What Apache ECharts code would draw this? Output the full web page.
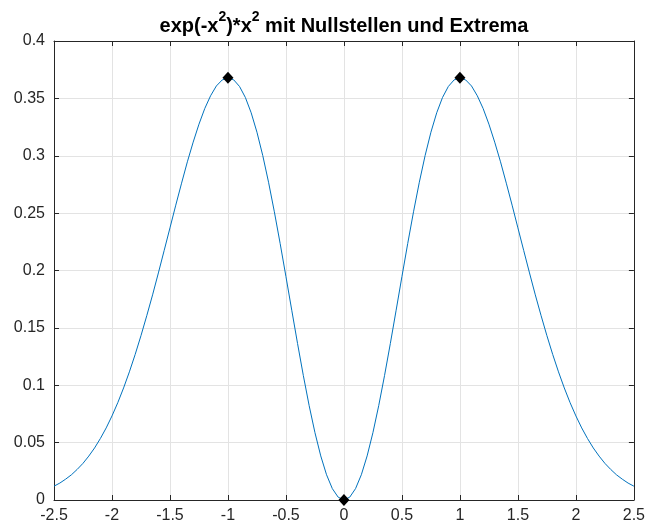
<!DOCTYPE html>
<html><head><meta charset="utf-8">
<script src="https://cdn.jsdelivr.net/npm/echarts@6/dist/echarts.min.js"></script>
<style>html,body{margin:0;padding:0;background:#fff}#c{width:648px;height:528px}</style>
</head><body><div id="c"></div>
<script>
const xValues = [-2.5,-2.45,-2.4,-2.35,-2.3,-2.25,-2.2,-2.15,-2.1,-2.05,-2,-1.95,-1.9,-1.85,-1.8,-1.75,-1.7,-1.65,-1.6,-1.55,-1.5,-1.45,-1.4,-1.35,-1.3,-1.25,-1.2,-1.15,-1.1,-1.05,-1,-0.95,-0.9,-0.85,-0.8,-0.75,-0.7,-0.65,-0.6,-0.55,-0.5,-0.45,-0.4,-0.35,-0.3,-0.25,-0.2,-0.15,-0.1,-0.05,0,0.05,0.1,0.15,0.2,0.25,0.3,0.35,0.4,0.45,0.5,0.55,0.6,0.65,0.7,0.75,0.8,0.85,0.9,0.95,1,1.05,1.1,1.15,1.2,1.25,1.3,1.35,1.4,1.45,1.5,1.55,1.6,1.65,1.7,1.75,1.8,1.85,1.9,1.95,2,2.05,2.1,2.15,2.2,2.25,2.3,2.35,2.4,2.45,2.5];
const yValues = [0.01206,0.01474,0.01815,0.02196,0.02667,0.03195,0.03827,0.04536,0.05360,0.06282,0.07326,0.08483,0.09765,0.11168,0.12687,0.14323,0.16063,0.17876,0.19788,0.21748,0.23715,0.25695,0.27609,0.29472,0.31184,0.32752,0.34118,0.35226,0.36082,0.36604,0.36788,0.36611,0.36034,0.35080,0.33747,0.32050,0.30019,0.27691,0.25116,0.22354,0.19470,0.16538,0.13634,0.10838,0.08225,0.05871,0.03843,0.02200,0.00990,0.00249,0,0.00249,0.00990,0.02200,0.03843,0.05871,0.08225,0.10838,0.13634,0.16538,0.19470,0.22354,0.25116,0.27691,0.30019,0.32050,0.33747,0.35080,0.36034,0.36611,0.36788,0.36604,0.36082,0.35226,0.34118,0.32752,0.31184,0.29472,0.27609,0.25695,0.23715,0.21748,0.19788,0.17876,0.16063,0.14323,0.12687,0.11168,0.09765,0.08483,0.07326,0.06282,0.05360,0.04536,0.03827,0.03195,0.02667,0.02196,0.01815,0.01474,0.01206];
const markX = [-1, 0, 1];
const markY = [0.36788, 0, 0.36788];
const xTicks = {min: -2.5, max: 2.5, interval: 0.5};
const yTicks = {min: 0, max: 0.4, interval: 0.05};

const axisColor = '#262626';
const font = '"Liberation Sans", Arial, Helvetica, sans-serif';
const chart = echarts.init(document.getElementById('c'), null, {renderer: 'canvas'});
const baseAxis = {
  type: 'value',
  axisLine: {show: true, onZero: false, lineStyle: {color: axisColor, width: 1}},
  axisTick: {show: true, inside: true, length: 5, lineStyle: {color: axisColor}},
  axisLabel: {color: axisColor, fontSize: 16, fontFamily: font},
  splitLine: {show: true, lineStyle: {color: '#e3e3e3', width: 1}}
};
const hidden = {
  type: 'value',
  axisLine: {show: true, onZero: false, lineStyle: {color: axisColor, width: 1}},
  axisTick: {show: true, inside: true, length: 5, lineStyle: {color: axisColor}},
  axisLabel: {show: false},
  splitLine: {show: false}
};
chart.setOption({
  animation: false,
  backgroundColor: '#fff',
  title: {
    text: '{a|exp(-x}{s|2}{a|)*x}{s|2}{a| mit Nullstellen und Extrema}',
    left: 344, top: 10, padding: 0, textAlign: 'center',
    textStyle: {
      rich: {
        a: {fontSize: 20, fontWeight: 'bold', fontFamily: font, color: '#000', lineHeight: 26, verticalAlign: 'bottom'},
        s: {fontSize: 14, fontWeight: 'bold', fontFamily: font, color: '#000', lineHeight: 16, verticalAlign: 'top'}
      }
    }
  },
  grid: {left: 54, right: 14, top: 41, bottom: 28, containLabel: false},
  xAxis: [
    Object.assign({}, baseAxis, xTicks, {position: 'bottom', axisLabel: Object.assign({}, baseAxis.axisLabel, {margin: 8})}),
    Object.assign({}, hidden, xTicks, {position: 'top'})
  ],
  yAxis: [
    Object.assign({}, baseAxis, yTicks, {position: 'left', axisLabel: Object.assign({}, baseAxis.axisLabel, {margin: 9})}),
    Object.assign({}, hidden, yTicks, {position: 'right'})
  ],
  series: [
    {
      type: 'line',
      data: xValues.map((x, i) => [x, yValues[i]]),
      showSymbol: false, symbol: 'none',
      lineStyle: {color: '#0072BD', width: 1},
      smooth: false
    },
    {
      type: 'scatter',
      data: markX.map((x, i) => [x, markY[i]]),
      symbol: 'diamond', symbolSize: [11, 12],
      itemStyle: {color: '#000', opacity: 1},
      z: 5
    }
  ]
});
</script></body></html>
